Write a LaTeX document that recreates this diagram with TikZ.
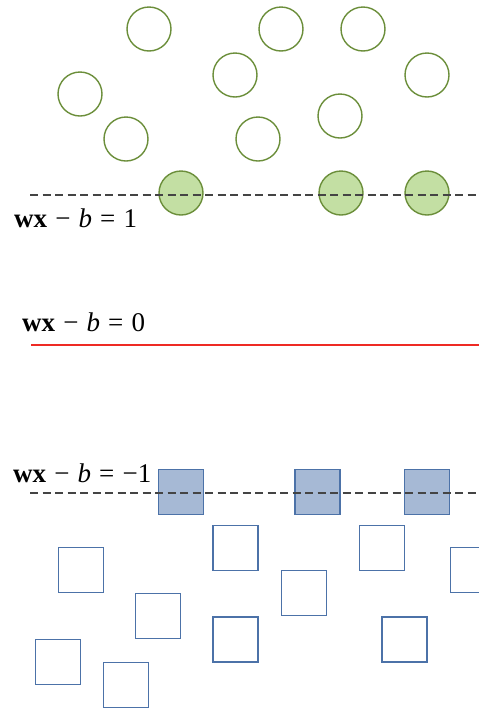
\documentclass[tikz,border=0pt]{standalone}
\usepackage{fontspec}
\setmainfont{Liberation Serif}
\definecolor{ringgreen}{HTML}{6B8E3A}
\definecolor{fillgreen}{HTML}{C3DFA3}
\definecolor{boxblue}{HTML}{4C72A8}
\definecolor{fillblue}{HTML}{A6B9D5}
\definecolor{dashgray}{HTML}{444444}
\definecolor{planered}{HTML}{EE2A24}
\newcommand{\eqgap}{\hspace{0.3em}}
\tikzset{
  ring/.style={circle, draw=ringgreen, line width=1.4pt, minimum size=44pt, inner sep=0pt},
  supring/.style={ring, fill=fillgreen},
  box/.style={rectangle, draw=boxblue, line width=1.4pt, minimum size=45pt, inner sep=0pt},
  supbox/.style={box, fill=fillblue},
  margin/.style={draw=dashgray, line width=1.3pt, dash pattern=on 8pt off 4.5pt},
  plane/.style={draw=planered, line width=2pt},
  eqlabel/.style={anchor=base west, inner sep=0pt, font=\fontsize{27}{31}\selectfont}
}
\begin{document}
\begin{tikzpicture}[x=1pt, y=-1pt]
\useasboundingbox (0,0) rectangle (479,710);
\clip (0,0) rectangle (479,710);
% positive class
\node[ring] (c1) at (149,29) {};
\node[ring] (c2) at (281,29) {};
\node[ring] (c3) at (363,29) {};
\node[ring] (c4) at (235,75) {};
\node[ring] (c5) at (427,75) {};
\node[ring] (c6) at (80,94) {};
\node[ring] (c7) at (340,116) {};
\node[ring] (c8) at (126,139) {};
\node[ring] (c9) at (258,139) {};
\node[supring] (p1) at (181,193) {};
\node[supring] (p2) at (341,193) {};
\node[supring] (p3) at (427,193) {};
% negative class
\node[supbox] (q1) at (181,492) {};
\node[supbox] (q2) at (317.5,492) {};
\node[supbox] (q3) at (427,492) {};
\node[box] (s1) at (81,570) {};
\node[box] (s2) at (235.5,548) {};
\node[box] (s3) at (382,548) {};
\node[box] (s4) at (473,570) {};
\node[box] (s5) at (158,616) {};
\node[box] (s6) at (304,593) {};
\node[box] (s7) at (235.5,639.5) {};
\node[box] (s8) at (404.5,639.5) {};
\node[box] (s9) at (58,662) {};
\node[box] (s10) at (126,685) {};
% margins and separating hyperplane
\coordinate (m1a) at (30,195);  \coordinate (m1b) at (479,195);
\coordinate (h0a) at (31,345);  \coordinate (h0b) at (479,345);
\coordinate (m2a) at (30,493);  \coordinate (m2b) at (479,493);
\draw[margin] (m1a) -- (m1b);
\draw[plane] (h0a) -- (h0b);
\draw[margin] (m2a) -- (m2b);
% equations
\node[eqlabel] (e1) at (14,227) {\textbf{wx}\eqgap−\eqgap\textit{b}\eqgap=\eqgap1};
\node[eqlabel] (e0) at (22,331) {\textbf{wx}\eqgap−\eqgap\textit{b}\eqgap=\eqgap0};
\node[eqlabel] (e2) at (13,482) {\textbf{wx}\eqgap−\eqgap\textit{b}\eqgap=\eqgap−1};
\end{tikzpicture}
\end{document}
